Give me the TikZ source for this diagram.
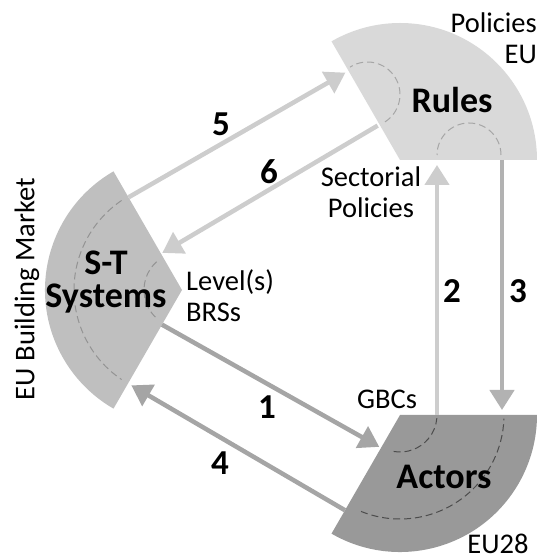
\documentclass[tikz,border=0pt]{standalone}
\usepackage{fontspec}
\setmainfont{Carlito}
\usepackage{tikz}
\usetikzlibrary{arrows.meta}
\usetikzlibrary{calc}

\definecolor{rulesfill}{RGB}{217,217,217}
\definecolor{stfill}{RGB}{191,191,191}
\definecolor{actfill}{RGB}{153,153,153}
\definecolor{lightflow}{RGB}{205,205,205}
\definecolor{midflow}{RGB}{178,178,178}
\definecolor{darkflow}{RGB}{165,165,165}

\begin{document}
\begin{tikzpicture}[
                      x=1pt, y=1pt,
                      flow/.style={line width=4.5pt, -{Triangle[length=20pt,width=24pt]}},
                      ring/.style={dash pattern=on 7pt off 4pt, line width=1pt},
                      lbl/.style={font=\fontsize{28.5}{31}\selectfont, inner sep=0pt, align=center},
                      key/.style={font=\fontsize{36}{33}\selectfont\bfseries, inner sep=0pt, align=center},
                      num/.style={font=\fontsize{35}{35}\selectfont\bfseries, inner sep=0pt}
                  ]
                  \useasboundingbox (0,0) rectangle (537,560);
                  % centres of the three sectors
                  \coordinate (rules) at (400,400);
                  \coordinate (st) at (182,270);
                  \coordinate (act) at (400,145);
                  % sectors
                  \fill[rulesfill] (rules) -- ++(0:137pt) arc (0:120:137pt) -- cycle;
                  \fill[stfill] (st) -- ++(120:137pt) arc (120:240:137pt) -- cycle;
                  \fill[actfill] (act) -- ++(240:137pt) arc (240:360:137pt) -- cycle;
                  % dashed rings
                  \draw[ring, gray!70] (367.5,465.5) ++(-57.5:32.5pt) arc (-57.5:122.5:32.5pt);
                  \draw[ring, gray!70] (469,405) ++(0:32pt) arc (0:180:32pt);
                  \draw[ring, gray!85] (st) ++(132:38pt) arc (132:228:38pt);
                  \draw[ring, gray!85] (st) ++(124:108pt) arc (124:236:108pt);
                  \draw[ring, black!70] (act) ++(260:37pt) arc (260:355:37pt);
                  \draw[ring, black!70] (act) ++(248:104pt) arc (248:358:104pt);
                  % arrow ends
                  \coordinate (st5) at ($(st)+(120:107pt)$);
                  \coordinate (ru5) at ($(rules)+(122:103pt)$);
                  \coordinate (ru6) at ($(rules)+(123:41pt)$);
                  \coordinate (st6) at ($(st)+(118:42pt)$);
                  \coordinate (ac2) at ($(act)+(37,0)$);
                  \coordinate (ru2) at ($(rules)+(37,-5)$);
                  \coordinate (ru3) at ($(rules)+(102,0)$);
                  \coordinate (ac3) at ($(act)+(102,5)$);
                  \coordinate (st1) at ($(st)+(240:40pt)$);
                  \coordinate (ac1) at ($(act)+(237:38pt)$);
                  \coordinate (ac4) at ($(act)+(240:110pt)$);
                  \coordinate (st4) at ($(st)+(242:108pt)$);
                  % flows
                  \draw[flow, lightflow] (st5) -- (ru5);
                  \draw[flow, lightflow] (ru6) -- (st6);
                  \draw[flow, lightflow] (ac2) -- (ru2);
                  \draw[flow, midflow] (ru3) -- (ac3);
                  \draw[flow, darkflow] (st1) -- (ac1);
                  \draw[flow, darkflow] (ac4) -- (st4);
                  % labels
                  \node[key] at (452,460) (rl) {Rules};
                  \node[key] at (106,278) (sl) {S-T\\Systems};
                  \node[key] at (444,83) (al) {Actors};
                  \node[lbl, align=right, anchor=east] at (537,522) (eu) {Policies\\EU};
                  \node[lbl] at (371,368) (sp) {Sectorial\\Policies};
                  \node[lbl, align=left, anchor=west] at (186,264) (lv) {Level(s)\\BRSs};
                  \node[lbl] at (387,161) (gb) {GBCs};
                  \node[lbl] at (498,16) (e28) {EU28};
                  \node[lbl, rotate=90] at (27,271) (bm) {EU Building Market};
                  % numbers
                  \node[num] at (267,153) (n1) {1};
                  \node[num] at (452,269) (n2) {2};
                  \node[num] at (518,269) (n3) {3};
                  \node[num] at (220,97) (n4) {4};
                  \node[num] at (221,436) (n5) {5};
                  \node[num] at (269,388) (n6) {6};
              \end{tikzpicture}
\end{document}
